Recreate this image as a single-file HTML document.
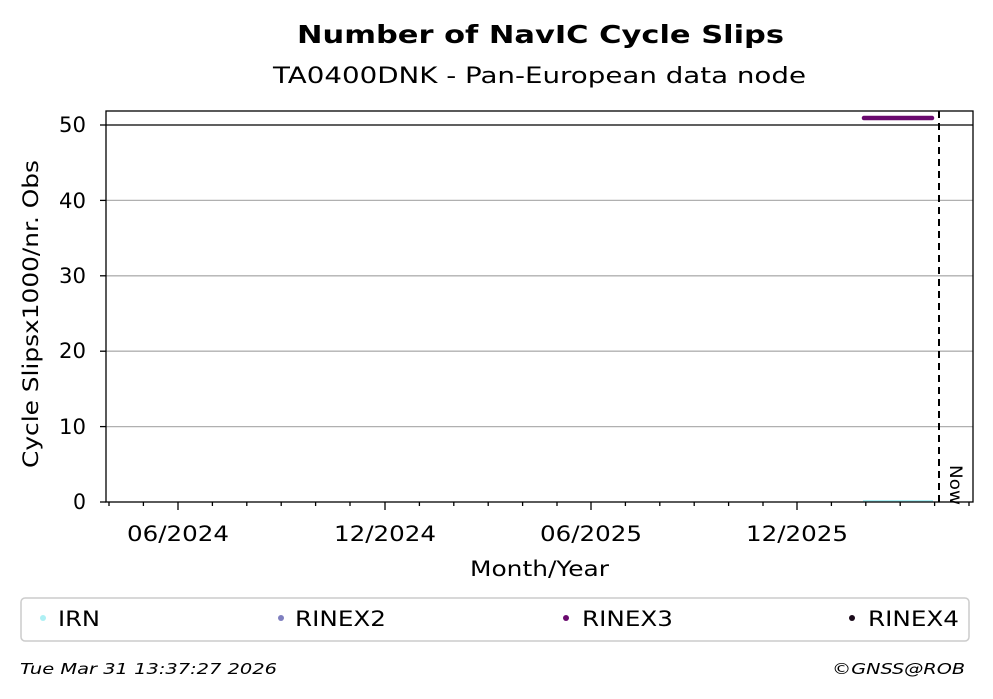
<!DOCTYPE html>
<html><head><meta charset="utf-8"><style>body{margin:0;background:#fff}svg{display:block}text{font-family:"DejaVu Sans","Liberation Sans",sans-serif}</style></head><body>
<svg width="993" height="699" xmlns="http://www.w3.org/2000/svg">
<text x="297" y="43" font-size="25" font-weight="bold" textLength="487" lengthAdjust="spacingAndGlyphs">Number of NavIC Cycle Slips</text>
<text x="273" y="83" font-size="22.5" textLength="533" lengthAdjust="spacingAndGlyphs">TA0400DNK - Pan-European data node</text>
<g stroke="#b0b0b0" stroke-width="1.3">
<line x1="106" x2="973" y1="426.6" y2="426.6"/><line x1="106" x2="973" y1="351.2" y2="351.2"/><line x1="106" x2="973" y1="275.8" y2="275.8"/><line x1="106" x2="973" y1="200.4" y2="200.4"/>
</g>
<line x1="106" x2="973" y1="125" y2="125" stroke="#000" stroke-width="1.3"/>
<line x1="864" x2="932" y1="118" y2="118" stroke="#6a0a6e" stroke-width="4.5" stroke-linecap="round"/>
<line x1="863" x2="933" y1="501" y2="501" stroke="#aef0f4" stroke-width="2"/>
<line x1="939" x2="939" y1="111" y2="502" stroke="#000" stroke-width="2" stroke-dasharray="7,5"/>
<text transform="translate(950,465) rotate(90)" font-size="17" textLength="40" lengthAdjust="spacingAndGlyphs">Now</text>
<rect x="106" y="111" width="867" height="391" fill="none" stroke="#000" stroke-width="1.3"/>
<g stroke="#000" stroke-width="1.3">
<line x1="100" x2="106" y1="502" y2="502"/><line x1="100" x2="106" y1="426.6" y2="426.6"/><line x1="100" x2="106" y1="351.2" y2="351.2"/><line x1="100" x2="106" y1="275.8" y2="275.8"/><line x1="100" x2="106" y1="200.4" y2="200.4"/><line x1="100" x2="106" y1="125" y2="125"/>
<line x1="178" x2="178" y1="502" y2="510"/><line x1="385" x2="385" y1="502" y2="510"/><line x1="591" x2="591" y1="502" y2="510"/><line x1="797" x2="797" y1="502" y2="510"/>
<path d="M109 502v4M143.4 502v4M212.4 502v4M246.8 502v4M281.2 502v4M315.6 502v4M350 502v4M419.4 502v4M453.8 502v4M488.2 502v4M522.6 502v4M557 502v4M625.4 502v4M659.8 502v4M694.2 502v4M728.6 502v4M763 502v4M831.4 502v4M865.8 502v4M900.2 502v4M934.6 502v4M969 502v4"/>
</g>
<g font-size="21" text-anchor="end">
<text x="86" y="509" textLength="13" lengthAdjust="spacingAndGlyphs">0</text>
<text x="86" y="434" textLength="27" lengthAdjust="spacingAndGlyphs">10</text>
<text x="86" y="358" textLength="27" lengthAdjust="spacingAndGlyphs">20</text>
<text x="86" y="283" textLength="27" lengthAdjust="spacingAndGlyphs">30</text>
<text x="86" y="208" textLength="27" lengthAdjust="spacingAndGlyphs">40</text>
<text x="86" y="132" textLength="27" lengthAdjust="spacingAndGlyphs">50</text>
</g>
<g font-size="21">
<text x="127" y="541" textLength="102" lengthAdjust="spacingAndGlyphs">06/2024</text>
<text x="334" y="541" textLength="102" lengthAdjust="spacingAndGlyphs">12/2024</text>
<text x="540" y="541" textLength="102" lengthAdjust="spacingAndGlyphs">06/2025</text>
<text x="746" y="541" textLength="102" lengthAdjust="spacingAndGlyphs">12/2025</text>
<text x="470" y="576" textLength="139" lengthAdjust="spacingAndGlyphs">Month/Year</text>
</g>
<text transform="translate(38,468) rotate(-90)" font-size="21" textLength="308" lengthAdjust="spacingAndGlyphs">Cycle Slipsx1000/nr. Obs</text>
<rect x="21" y="598" width="948" height="43" rx="4" fill="#fff" stroke="#ccc" stroke-width="1.5"/>
<g font-size="21">
<circle cx="43" cy="618" r="3" fill="#aef0f4"/><text x="58" y="626" textLength="42" lengthAdjust="spacingAndGlyphs">IRN</text>
<circle cx="281" cy="618" r="3" fill="#7f7fbf"/><text x="295" y="626" textLength="91" lengthAdjust="spacingAndGlyphs">RINEX2</text>
<circle cx="566" cy="618" r="3" fill="#6a0a6e"/><text x="582" y="626" textLength="91" lengthAdjust="spacingAndGlyphs">RINEX3</text>
<circle cx="852" cy="618" r="3" fill="#1a0a1a"/><text x="868" y="626" textLength="91" lengthAdjust="spacingAndGlyphs">RINEX4</text>
</g>
<text x="20" y="674" font-size="15.5" font-style="italic" textLength="257" lengthAdjust="spacingAndGlyphs">Tue Mar 31 13:37:27 2026</text>
<text x="832" y="674" font-size="15.5" font-style="italic" textLength="133" lengthAdjust="spacingAndGlyphs">©GNSS@ROB</text>
</svg>
</body></html>
